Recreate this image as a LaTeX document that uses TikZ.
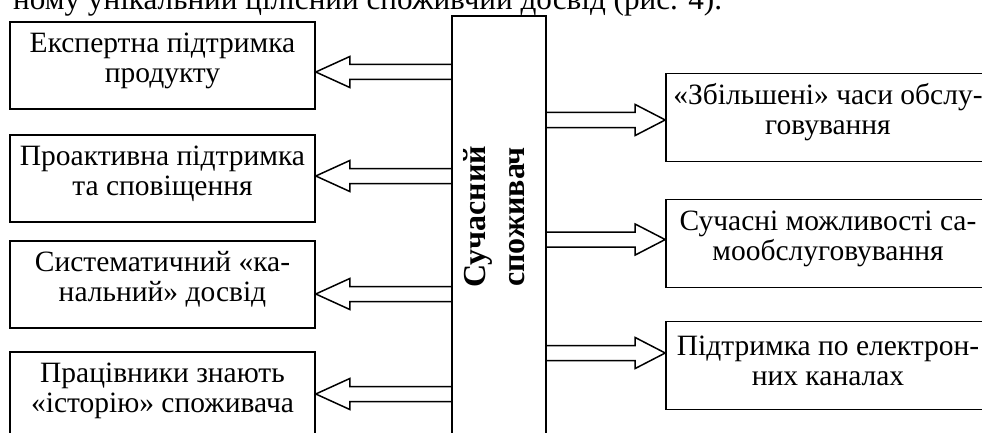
\documentclass[tikz,border=0pt]{standalone}
\usepackage{fontspec}
\usepackage{graphicx}
\setmainfont{Liberation Serif}
\usetikzlibrary{calc}
\newcommand{\arrowleft}[2]{%
  \draw[arrowline] ($(#1)+(0,7.5)$) -- ($(#2)+(34,7.5)$) -- ($(#2)+(34,15.5)$) -- (#2)
    -- ($(#2)+(34,-15.5)$) -- ($(#2)+(34,-7.5)$) -- ($(#1)+(0,-7.5)$);}
\newcommand{\arrowright}[2]{%
  \draw[arrowline] ($(#1)+(0,7.5)$) -- ($(#2)+(-30,7.5)$) -- ($(#2)+(-30,15.5)$) -- (#2)
    -- ($(#2)+(-30,-15.5)$) -- ($(#2)+(-30,-7.5)$) -- ($(#1)+(0,-7.5)$);}
\begin{document}
\begin{tikzpicture}[x=1pt,y=1pt,
  box/.style={draw, line width=1.6pt, rectangle, minimum height=87pt, inner sep=0pt},
  lbox/.style={box, minimum width=305pt},
  rbox/.style={box, minimum width=326pt, minimum height=88pt},
  lbl/.style={align=center, inner sep=0pt, font=\fontsize{29.5}{30}\selectfont},
  arrowline/.style={line width=1.5pt, line join=miter}]
\useasboundingbox (0,0) rectangle (982,432);
\clip (0,0) rectangle (982,432);

\node[anchor=base west, font=\fontsize{32}{40}\selectfont, inner sep=0pt] (top) at (13,422.5)
  {\resizebox{709pt}{!}{ному унікальний цілісний споживчий досвід (рис. 4).}};

\node[draw, line width=1.6pt, minimum width=94pt, minimum height=436pt, inner sep=0pt] (c) at (499,198) {};
\node[rotate=90, font=\fontsize{32}{39}\selectfont\bfseries, align=center, inner sep=0pt] (ct) at (494,215)
  {Сучасний\\споживач};

\node[lbox] (l1) at (162.5,366.5) {};
\node[lbox] (l2) at (162.5,253.5) {};
\node[lbox] (l3) at (162.5,147.5) {};
\node[lbox] (l4) at (162.5,36.5) {};
\node[lbl] (l1t) at ($(l1.center)+(0,5)$) {Експертна підтримка\\продукту};
\node[lbl] (l2t) at ($(l2.center)+(0,5)$) {Проактивна підтримка\\та сповіщення};
\node[lbl] (l3t) at ($(l3.center)+(0,5)$) {Систематичний «ка-\\нальний» досвід};
\node[lbl] (l4t) at ($(l4.center)+(0,5)$) {Працівники знають\\«історію» споживача};

\node[rbox] (r1) at (829,314.5) {};
\node[rbox] (r2) at (829,188.5) {};
\node[rbox] (r3) at (829,66.5) {};
\node[lbl] (r1t) at ($(r1.center)+(-1,5)$) {«Збільшені» часи обслу-\\говування};
\node[lbl] (r2t) at ($(r2.center)+(-1,5)$) {Сучасні можливості са-\\мообслуговування};
\node[lbl] (r3t) at ($(r3.center)+(-1,5)$) {Підтримка по електрон-\\них каналах};

\coordinate (ya) at (0,360);
\coordinate (yb) at (0,256);
\coordinate (yc) at (0,138);
\coordinate (yd) at (0,38);
\coordinate (ye) at (0,312);
\coordinate (yf) at (0,192.5);
\coordinate (yg) at (0,79);

\coordinate (sa) at (c.west |- ya); \coordinate (ta) at (l1.east |- ya);
\coordinate (sb) at (c.west |- yb); \coordinate (tb) at (l2.east |- yb);
\coordinate (sc) at (c.west |- yc); \coordinate (tc) at (l3.east |- yc);
\coordinate (sd) at (c.west |- yd); \coordinate (td) at (l4.east |- yd);
\coordinate (se) at (c.east |- ye); \coordinate (te) at (r1.west |- ye);
\coordinate (sf) at (c.east |- yf); \coordinate (tf) at (r2.west |- yf);
\coordinate (sg) at (c.east |- yg); \coordinate (tg) at (r3.west |- yg);

\arrowleft{sa}{ta}
\arrowleft{sb}{tb}
\arrowleft{sc}{tc}
\arrowleft{sd}{td}
\arrowright{se}{te}
\arrowright{sf}{tf}
\arrowright{sg}{tg}
\end{tikzpicture}
\end{document}
